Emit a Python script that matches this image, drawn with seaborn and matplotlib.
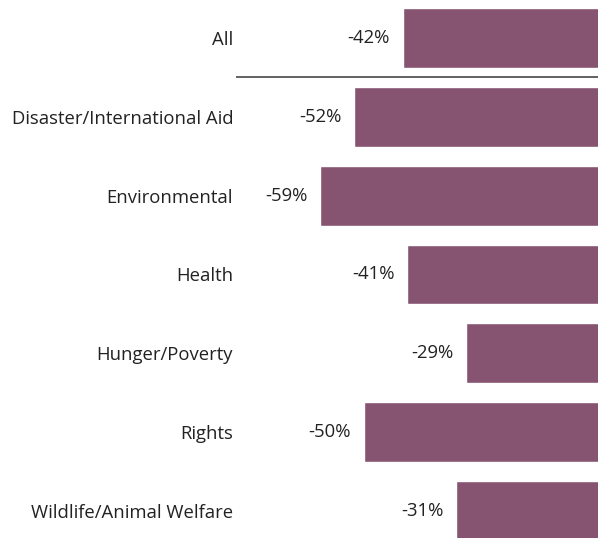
import matplotlib
matplotlib.use("Agg")
import matplotlib.pyplot as plt
import seaborn as sns
import pandas as pd

categories = ["All", "Disaster/International Aid", "Environmental", "Health",
              "Hunger/Poverty", "Rights", "Wildlife/Animal Welfare"]
values = [-42, -52, -59, -41, -29, -50, -31]
labels = ["-42%", "-52%", "-59%", "-41%", "-29%", "-50%", "-31%"]

sns.set_theme(style="white")
plt.rcParams['font.family'] = ['Open Sans', 'DejaVu Sans']

df = pd.DataFrame({"category": categories, "value": values})

fig = plt.figure(figsize=(5.98, 5.38), dpi=100)
ax = fig.add_axes([236 / 598, 0, (607 - 236) / 598, 1])
sns.barplot(data=df, x="value", y="category", orient="h", color="#865470",
            saturation=1, width=0.76, ax=ax)

ax.set_xlim(-76.2, 0)
ax.set_ylim(6.343, -0.482)
ax.axhline(0.49, color="#555555", linewidth=1.3)

ax.bar_label(ax.containers[0], labels=labels, padding=9, fontsize=13.3,
             color="#222222")

ax.set_xlabel("")
ax.set_ylabel("")
ax.set_xticks([])
ax.tick_params(axis="y", length=0, pad=2, labelsize=13.3, labelcolor="#222222")
for s in ax.spines.values():
    s.set_visible(False)

fig.savefig("out.png", dpi=100)
